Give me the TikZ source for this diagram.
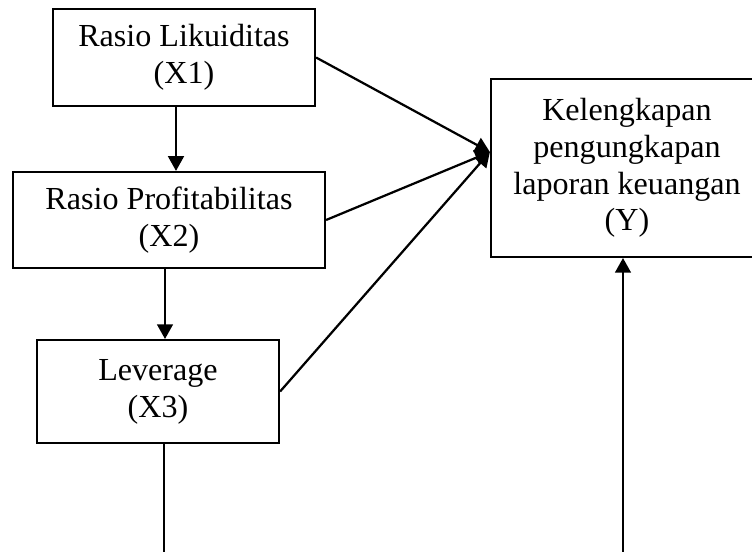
\documentclass[tikz,border=0pt]{standalone}
\usepackage{fontspec}
\setmainfont{Liberation Serif}
\usetikzlibrary{calc, arrows.meta}

\begin{document}
\begin{tikzpicture}[x=0.38pt, y=-0.38pt]
    %positions are in pixels of the original sketch, y runs downwards.
    \useasboundingbox (0,0) rectangle (752,552);
    \begin{scope}[every node/.style={rectangle, draw, line width=0.8pt, align=center, inner sep=0pt, font=\fontsize{12.2}{14}\selectfont}]
        \node [minimum width=99.6pt, minimum height=36.9pt] (x1) at (184,57.5) {Rasio Likuiditas\\(X1)};
        \node [minimum width=118.6pt, minimum height=36.5pt] (x2) at (169,220) {Rasio Profitabilitas\\(X2)};
        \node [minimum width=92pt, minimum height=39.1pt] (x3) at (158,391.5) {Leverage\\(X3)};
        \node [minimum width=103.4pt, minimum height=67.6pt] (y) at (627,168) {Kelengkapan\\pengungkapan\\laporan keuangan\\(Y)};
    \end{scope}
    
    \coordinate (hub) at ($(y.west)+(0,-16)$);
    \coordinate (s1) at ($(x1.south)+(-8,0)$);
    \coordinate (s2) at ($(x2.south)+(-4,0)$);
    \coordinate (x3out) at (164,552);
    \coordinate (yin) at (623,552);
    
    \begin{scope}[>={Triangle[length=5.6pt, width=6pt]},
                every edge/.style={draw=black, line width=0.85pt}]
        \path [->] (s1) edge (s1 |- x2.north);
        \path [->] (s2) edge (s2 |- x3.north);
        \path [->] (x1.east) edge (hub);
        \path [->] (x2.east) edge (hub);
        \path [->] (x3.east) edge (hub);
        \path [->] (yin) edge (yin |- y.south);
        \path (x3out |- x3.south) edge (x3out);
    \end{scope}
    
\end{tikzpicture}
\end{document}
